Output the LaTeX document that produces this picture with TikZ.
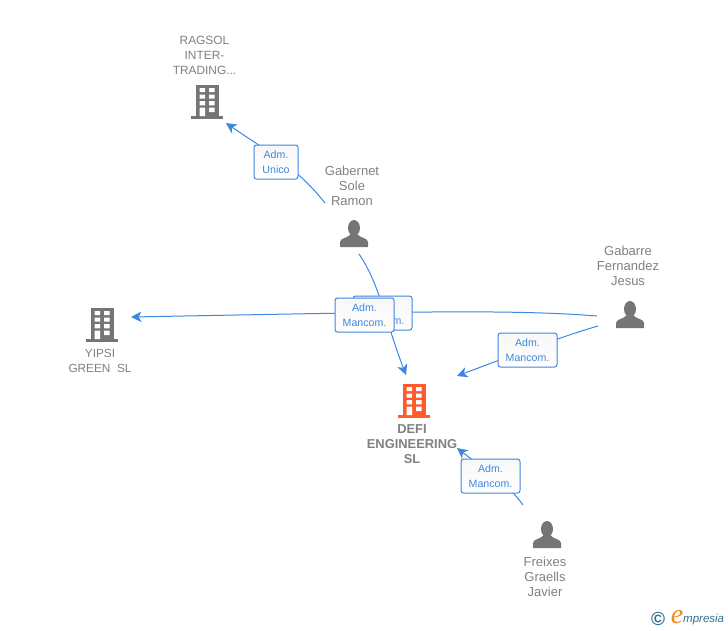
\documentclass[tikz,border=0pt]{standalone}
\usepackage{fontspec}
\setmainfont{Liberation Sans}
\newfontfamily\logofont{Liberation Serif}
\usetikzlibrary{arrows.meta}

\definecolor{linkBlue}{HTML}{3F86E0}
\definecolor{iconGray}{HTML}{757575}
\definecolor{textGray}{HTML}{808080}
\definecolor{iconOrange}{HTML}{FF5A2B}
\definecolor{logoTeal}{HTML}{2F6F8F}
\definecolor{logoOrange}{HTML}{F08A1D}

\tikzset{
  linkTip/.style={draw=linkBlue, line width=1pt, -{Stealth[length=10.5pt,width=10.5pt,inset=3pt]}},
  roleBox/.style={draw=linkBlue, line width=1pt, rounded corners=2.5pt, top color=black!3, bottom color=white,
    minimum height=34pt, inner sep=0pt, align=center, text=linkBlue, font=\fontsize{10.6}{15}\selectfont},
  nameText/.style={inner sep=0pt, align=center, text=textGray, font=\fontsize{13}{15}\selectfont},
  pics/building/.style={code={
    \fill[#1] (-11.5,-16) rectangle (11.5,15);
    \fill[#1] (-16,15) rectangle (16,18);
    \fill[white] (-7.5,-13) rectangle (-2,-9) (2,-13) rectangle (7.5,-9);
    \fill[white] (-7.5,-6.5) rectangle (-2,-2.3) (2,-6.5) rectangle (7.5,-2.3);
    \fill[white] (-7.5,0) rectangle (-2,4.3) (2,0) rectangle (7.5,4.3);
    \fill[white] (-7.5,6.7) rectangle (-2,15) (2,6.7) rectangle (7.5,11);
  }},
  pics/person/.style={code={
    \fill[iconGray] (0,-5) ellipse (6 and 8);
    \fill[iconGray] (-14,14) -- (-14,9) .. controls (-14,5) and (-6,5) .. (-3,1) -- (3,1)
      .. controls (6,5) and (14,5) .. (14,9) -- (14,14) -- cycle;
  }},
}

\begin{document}
\begin{tikzpicture}[x=1pt, y=-1pt]
  \useasboundingbox (0,0) rectangle (728,630);

  % connector ends
  \coordinate (gabernetUp) at (325,203);
  \coordinate (gabernetDown) at (359,254);
  \coordinate (gabarreLeft) at (597,316);
  \coordinate (gabarreDown) at (598,326);
  \coordinate (freixesUp) at (523,505);
  \coordinate (ragsolIn) at (226,123);
  \coordinate (yipsiIn) at (131,317);
  \coordinate (defiTop) at (406,375);
  \coordinate (defiRight) at (457,376);
  \coordinate (defiLow) at (457,448);

  \draw[linkTip] (gabernetUp) .. controls (295,165) and (262,148) .. (ragsolIn);
  \draw[linkTip] (gabernetDown) .. controls (380,285) and (385,320) .. (defiTop);
  \draw[linkTip] (gabarreLeft) .. controls (510,309) and (400,312) .. (yipsiIn);
  \draw[linkTip] (gabarreDown) .. controls (560,337) and (510,356) .. (defiRight);
  \draw[linkTip] (freixesUp) .. controls (505,480) and (480,466) .. (defiLow);

  % role boxes
  \node[roleBox, minimum width=44pt] (unico) at (276,162) {Adm.\\Unico};
  \node[roleBox, minimum width=59pt] (mancomBack) at (382.5,313) {Adm.\\Mancom.};
  \node[roleBox, minimum width=59pt] (mancomFront) at (364.5,315) {Adm.\\Mancom.};
  \node[roleBox, minimum width=59pt] (mancomRight) at (527.5,350) {Adm.\\Mancom.};
  \node[roleBox, minimum width=59pt] (mancomLow) at (490.5,476) {Adm.\\Mancom.};

  % companies
  \pic at (207,101) {building=iconGray};
  \pic at (102,324) {building=iconGray};
  \pic at (414,400) {building=iconOrange};
  \node[nameText, font=\fontsize{11.9}{15}\selectfont] (ragsol) at (204.5,55.7) {RAGSOL\\INTER-\\TRADING...};
  \node[nameText, font=\fontsize{11.8}{15}\selectfont] (yipsi) at (100,361.2) {YIPSI\\GREEN\ \ SL};
  \node[nameText, font=\bfseries\fontsize{12.9}{15}\selectfont] (defi) at (412,443.7) {DEFI\\ENGINEERING\\SL};

  % people
  \pic at (354,233) {person};
  \pic at (630,314) {person};
  \pic at (547,534) {person};
  \node[nameText] (gabernet) at (352,185.7) {Gabernet\\Sole\\Ramon};
  \node[nameText] (gabarre) at (628,265.7) {Gabarre\\Fernandez\\Jesus};
  \node[nameText] (freixes) at (545,576.7) {Freixes\\Graells\\Javier};

  % logo
  \node[inner sep=0pt, text=logoTeal, font=\bfseries\fontsize{19}{19}\selectfont] (logoC) at (658,619) {\char"00A9};
  \node[inner sep=0pt, text=logoOrange, font=\logofont\itshape\fontsize{28}{28}\selectfont] (logoE) at (677,617) {e};
  \node[inner sep=0pt, anchor=west, text=logoTeal, font=\itshape\fontsize{11.5}{14}\selectfont] (logoText) at (683,620) {mpresia};
\end{tikzpicture}
\end{document}
